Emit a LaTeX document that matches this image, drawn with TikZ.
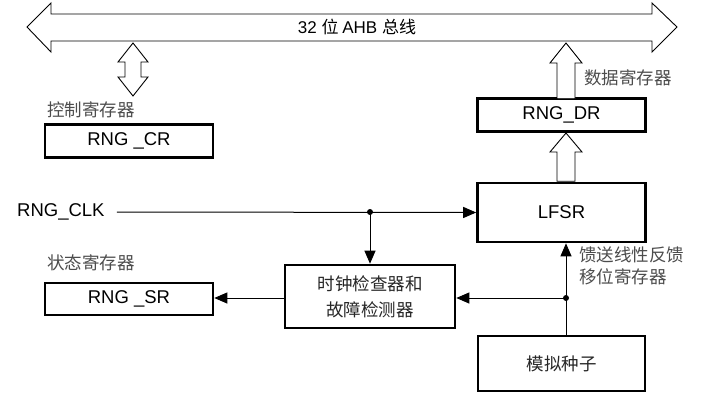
\documentclass[tikz,border=0pt]{standalone}
\usepackage{fontspec}
\setmainfont{Liberation Sans}
\newfontfamily\cjk{Noto Sans CJK SC}
\usetikzlibrary{arrows.meta,calc}
\begin{document}
\begin{tikzpicture}[x=1pt,y=-1pt,
  box/.style={draw=black,line width=2.6pt,minimum width=168pt,inner sep=0pt,font=\fontsize{18.5}{20}\selectfont},
  cnlabel/.style={font=\cjk\fontsize{17.5}{20}\selectfont,text=black!70,inner sep=0pt},
  hollow/.style={draw=black,line width=0.9pt,fill=white,line join=miter},
  wire/.style={line width=1pt},
  tip/.style={-{Triangle[length=13pt,width=11pt]}},
  dotn/.style={circle,fill=black,inner sep=0pt,minimum size=6pt}]
\useasboundingbox (0,0) rectangle (710,402);
% bus
\draw[hollow] (27,27) -- (51,3) -- (51,14) -- (652,14) -- (652,3) -- (677,27) -- (652,52) -- (652,41) -- (51,41) -- (51,52) -- cycle;
\node[font=\cjk\fontsize{17}{19}\selectfont,inner sep=0pt] (bus) at (357,27) {\fontspec{Liberation Sans}32 \cjk 位 \fontspec{Liberation Sans}AHB \cjk 总线};
% boxes
\node[box,minimum height=33pt] (cr) at (129,141) {RNG \_CR};
\node[box,minimum height=33pt] (dr) at (561.5,115) {RNG\_DR};
\node[box,minimum height=59pt] (lfsr) at (561.5,212.5) {LFSR};
\node[box,minimum height=32pt] (sr) at (129,299) {RNG \_SR};
\node[box,minimum width=170pt,minimum height=63pt,align=center,font=\cjk\fontsize{17.5}{26}\selectfont,text=black!85] (chk) at (370,296.5) {时钟检查器和\\故障检测器};
\node[box,minimum width=167pt,minimum height=55pt,font=\cjk\fontsize{17.5}{20}\selectfont,text=black!85] (seed) at (561.5,363.5) {模拟种子};
% labels
\node[cnlabel,anchor=west] (lcr) at (47,110) {控制寄存器};
\node[cnlabel,anchor=west] (ldr) at (584,78) {数据寄存器};
\node[cnlabel,anchor=west] (lsr) at (47,263) {状态寄存器};
\node[cnlabel,anchor=west,align=left,font=\cjk\fontsize{17.5}{22}\selectfont] (lfb) at (579,266) {馈送线性反馈\\移位寄存器};
\node[font=\fontsize{18.5}{20}\selectfont,anchor=west,inner sep=0pt] (clk) at (17,212) {RNG\_CLK};
% control register double arrow
\draw[hollow] (133,43) -- (148,62) -- (141,62) -- (141,77) -- (148,77) -- (133,96) -- (118,77) -- (125,77) -- (125,62) -- (118,62) -- cycle;
% DR to bus
\draw[hollow] (566,43) -- (582,63) -- (575,63) -- (575,98.7) -- (557,98.7) -- (557,63) -- (550,63) -- cycle;
% LFSR to DR
\draw[hollow] (566,133) -- (582,152) -- (575,152) -- (575,181.2) -- (557,181.2) -- (557,152) -- (550,152) -- cycle;
% wires
\coordinate (d1) at (370,212);
\coordinate (d2) at (566,298);
\draw[wire,tip] (clk.east) ++(12,0) -- (lfsr.west);
\node[dotn] at (d1) {};
\draw[wire,tip] (d1) -- (chk.north);
\draw[wire,tip] (chk.west |- d2) -- (sr.east |- d2);
\draw[wire] (seed.north -| d2) -- (d2);
\node[dotn] at (d2) {};
\draw[wire,tip] (d2) -- (d2 |- lfsr.south);
\draw[wire,tip] (d2) -- (d2 -| chk.east);
\end{tikzpicture}
\end{document}
